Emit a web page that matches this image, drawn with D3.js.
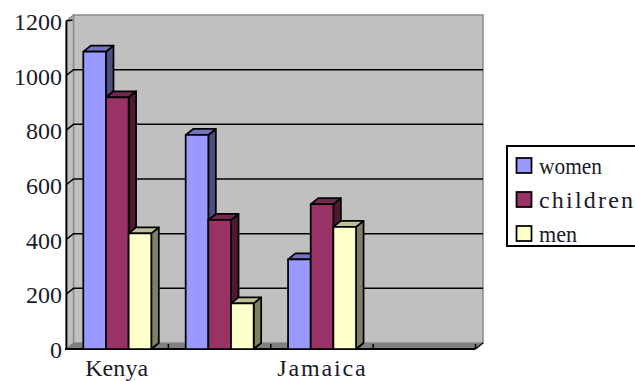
<!DOCTYPE html>
<html>
<head>
<meta charset="utf-8">
<script src="https://cdn.jsdelivr.net/npm/d3@7"></script>
<style>
html,body{margin:0;padding:0;background:#fff}
svg{display:block}
text{font-family:"Liberation Serif",serif;fill:#1a1a2a}
</style>
</head>
<body>
<svg id="chart" width="635" height="381"></svg>
<script>
const categories = ["Kenya", "", "Jamaica", ""];
const seriesNames = ["women", "children", "men"];
const women = [1088, 783, 328, 0];
const children = [921, 472, 530, 0];
const men = [423, 167, 447, 0];
const yTicks = [0, 200, 400, 600, 800, 1000, 1200];
const faceColors = ["#9999ff", "#993366", "#ffffcc"];
const topColors = ["#7373bf", "#732650", "#bfbf99"];
const sideColors = ["#4d4d80", "#4d1a33", "#808066"];

const svg = d3.select("#chart");
const depthX = 7.5, depthY = -6;
const x = d3.scaleBand().domain(d3.range(categories.length)).range([66, 475.5]);
const y = d3.scaleLinear().domain([0, 1200]).range([349, 21]);
const xSeries = d3.scaleBand().domain(seriesNames).range([0, 68]);

const pts = a => a.map(p => p.join(",")).join(" ");
const x0 = x.range()[0], x1 = x.range()[1], y0 = y(0), yTop = y(1200);

// Back wall, left side wall and floor of the 3-D plot box
svg.append("polygon")
  .attr("points", pts([[x0 + depthX, yTop + depthY], [x1 + depthX, yTop + depthY], [x1 + depthX, y0 + depthY], [x0 + depthX, y0 + depthY]]))
  .attr("fill", "#c0c0c0").attr("stroke", "#8a8a8a").attr("stroke-width", 1.5);
svg.append("polygon")
  .attr("points", pts([[x0, yTop], [x0 + depthX, yTop + depthY], [x0 + depthX, y0 + depthY], [x0, y0]]))
  .attr("fill", "#c0c0c0").attr("stroke", "#8a8a8a").attr("stroke-width", 1.5);
svg.append("polygon")
  .attr("points", pts([[x0, y0], [x0 + depthX, y0 + depthY], [x1 + depthX, y0 + depthY], [x1, y0]]))
  .attr("fill", "#808080");

// Gridlines run across the back wall and step down the side wall
yTicks.slice(1, -1).forEach(t => {
  svg.append("polyline")
    .attr("points", pts([[x0, y(t)], [x0 + depthX, y(t) + depthY], [x1 + depthX, y(t) + depthY]]))
    .attr("fill", "none").attr("stroke", "#000").attr("stroke-width", 1.5);
});

// Value axis: the ticks sit on the side wall, so the axis draws none to the left
const yAxis = d3.axisLeft(y).tickValues(yTicks).tickSize(0).tickPadding(4).tickFormat(d3.format("d"));
const gy = svg.append("g").attr("transform", `translate(${x0},0)`).call(yAxis);
gy.select("path").attr("stroke", "#000").attr("stroke-width", 1.75);
gy.selectAll("text").attr("font-size", 24).attr("font-family", "Liberation Serif").attr("dy", "0.36em");
svg.append("line").attr("x1", x0).attr("y1", yTop).attr("x2", x0 + depthX - 1).attr("y2", yTop - 1)
  .attr("stroke", "#000").attr("stroke-width", 1.5);

// Category axis
const gx = svg.append("g").attr("transform", `translate(0,${y0})`);
gx.append("line").attr("x1", x0 - 1).attr("x2", x1).attr("stroke", "#000").attr("stroke-width", 2);
gx.append("line").attr("x1", x1).attr("x2", x1 + depthX).attr("y2", depthY).attr("stroke", "#000").attr("stroke-width", 1.5);
d3.range(1, categories.length + 1).forEach(i => {
  const tx = x0 + i * x.bandwidth();
  gx.append("line").attr("x1", tx).attr("x2", tx).attr("y1", 0).attr("y2", -5)
    .attr("stroke", "#000").attr("stroke-width", 1.5);
});
gx.selectAll("text.cat").data(categories).join("text").attr("class", "cat")
  .attr("x", (d, i) => x(i) + x.bandwidth() / 2 - 0.5)
  .attr("y", 27).attr("text-anchor", "middle").attr("font-size", 24)
  .attr("textLength", d => d.length * 12.6 || null).attr("lengthAdjust", "spacing")
  .text(d => d);

// Clustered 3-D columns, back to front within each group
const values = [women, children, men];
categories.forEach((c, i) => {
  seriesNames.forEach((name, s) => {
    const v = values[s][i];
    if (!v) return;
    const bx0 = x(i) + 17.3 + xSeries(name);
    const bx1 = bx0 + xSeries.bandwidth();
    const by = y(v);
    const g = svg.append("g").attr("stroke", "#000").attr("stroke-width", 1.75).attr("stroke-linejoin", "round");
    g.append("polygon").attr("fill", sideColors[s])
      .attr("points", pts([[bx1, by], [bx1 + depthX, by + depthY], [bx1 + depthX, y0 + depthY], [bx1, y0]]));
    g.append("polygon").attr("fill", topColors[s])
      .attr("points", pts([[bx0, by], [bx0 + depthX, by + depthY], [bx1 + depthX, by + depthY], [bx1, by]]));
    g.append("rect").attr("fill", faceColors[s])
      .attr("x", bx0).attr("y", by).attr("width", bx1 - bx0).attr("height", y0 - by);
  });
});

// Legend box, cut off by the right edge of the page
const legend = svg.append("g").attr("transform", "translate(507,146)");
legend.append("rect").attr("width", 140).attr("height", 100)
  .attr("fill", "#fff").attr("stroke", "#000").attr("stroke-width", 2);
const rowY = d3.scalePoint().domain(seriesNames).range([19.5, 87.5]);
const legendWidths = [63, 94, 38];
seriesNames.forEach((name, s) => {
  legend.append("rect").attr("x", 9.5).attr("y", rowY(name) - 7.5).attr("width", 15).attr("height", 15)
    .attr("fill", faceColors[s]).attr("stroke", "#000").attr("stroke-width", 1.75);
  legend.append("text").attr("x", 32).attr("y", rowY(name) + 8.5).attr("font-size", 24)
    .attr("textLength", legendWidths[s])
    .attr("lengthAdjust", name === "children" ? "spacing" : "spacingAndGlyphs").text(name);
});
</script>
</body>
</html>
